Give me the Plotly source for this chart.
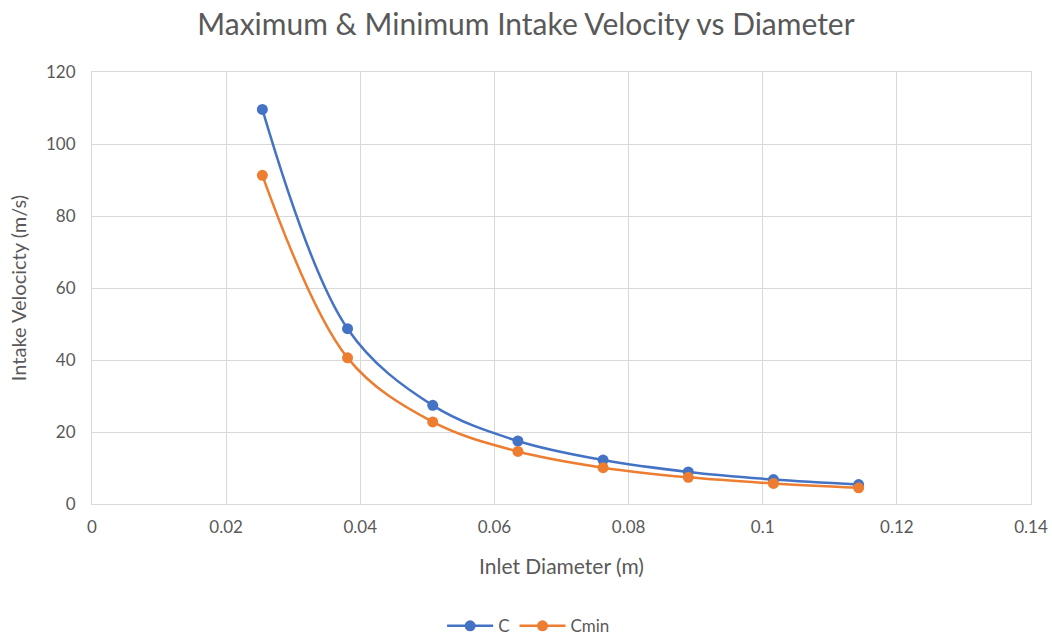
import plotly.graph_objects as go

# Inlet diameters (m) and intake velocities (m/s)
diameter = [0.0254, 0.0381, 0.0508, 0.0635, 0.0762, 0.0889, 0.1016, 0.1143]
c_max = [109.6, 48.7, 27.4, 17.5, 12.2, 8.9, 6.8, 5.4]
c_min = [91.3, 40.6, 22.8, 14.6, 10.1, 7.4, 5.7, 4.5]

x_ticks = [0, 0.02, 0.04, 0.06, 0.08, 0.1, 0.12, 0.14]
x_tick_text = ["0", "0.02", "0.04", "0.06", "0.08", "0.1", "0.12", "0.14"]

FONT = "Lato, Open Sans, sans-serif"
TEXT_GRAY = "#595959"
GRID = "#D9D9D9"

fig = go.Figure()
fig.add_trace(go.Scatter(
    x=diameter, y=c_max, name="C", mode="lines+markers",
    line=dict(color="#4472C4", width=2.5, shape="spline", smoothing=1.0),
    marker=dict(color="#4472C4", size=11),
))
fig.add_trace(go.Scatter(
    x=diameter, y=c_min, name="Cmin", mode="lines+markers",
    line=dict(color="#ED7D31", width=2.5, shape="spline", smoothing=1.0),
    marker=dict(color="#ED7D31", size=11),
))

fig.update_layout(
    width=1052, height=637,
    margin=dict(l=92, r=21, t=72, b=133, autoexpand=False),
    paper_bgcolor="white", plot_bgcolor="white",
    font=dict(family=FONT, color=TEXT_GRAY, size=17),
    title=dict(
        text="Maximum & Minimum Intake Velocity vs Diameter",
        x=0.5, xanchor="center", y=0.962, yanchor="middle",
        font=dict(family=FONT, size=30, color=TEXT_GRAY),
    ),
    showlegend=True,
    legend=dict(
        orientation="h", x=0.465, xanchor="center", y=-0.283, yanchor="middle",
        font=dict(family=FONT, size=17, color=TEXT_GRAY),
        itemwidth=46,
    ),
    xaxis=dict(
        range=[0, 0.14], tickvals=x_ticks, ticktext=x_tick_text,
        showgrid=True, gridcolor=GRID, gridwidth=1,
        zeroline=False, showline=True, linecolor=GRID, mirror=True,
        ticks="", ticklabelstandoff=8, automargin=False,
        tickfont=dict(size=17),
        title=dict(text="Inlet Diameter (m)", standoff=22,
                   font=dict(family=FONT, size=21, color=TEXT_GRAY)),
    ),
    yaxis=dict(
        range=[0, 120], dtick=20,
        showgrid=True, gridcolor=GRID, gridwidth=1,
        zeroline=False, showline=True, linecolor=GRID, mirror=True,
        ticks="", ticklabelstandoff=12, automargin=False,
        tickfont=dict(size=17),
        title=dict(text="Intake Velocicty (m/s)", standoff=14,
                   font=dict(family=FONT, size=20, color=TEXT_GRAY)),
    ),
)

fig.write_html("out.html")
